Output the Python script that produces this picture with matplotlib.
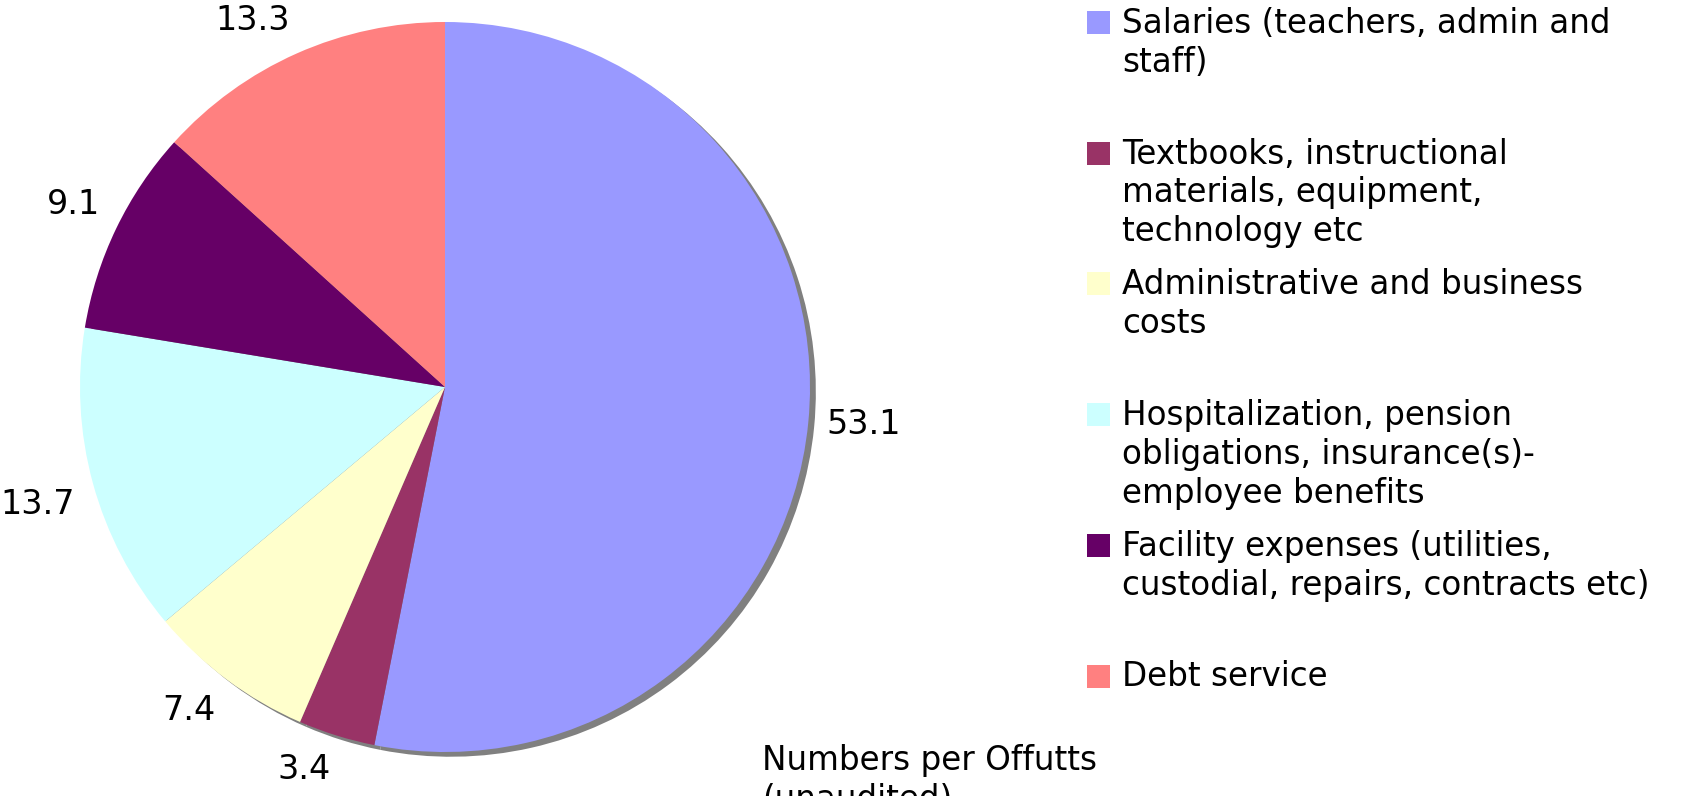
import numpy as np
import matplotlib.pyplot as plt
from matplotlib.patches import Rectangle

# expense categories and their shares (percent)
categories = [
    "Salaries (teachers, admin and\nstaff)",
    "Textbooks, instructional\nmaterials, equipment,\ntechnology etc",
    "Administrative and business\ncosts",
    "Hospitalization, pension\nobligations, insurance(s)-\nemployee benefits",
    "Facility expenses (utilities,\ncustodial, repairs, contracts etc)",
    "Debt service",
]
shares = [53.1, 3.4, 7.4, 13.7, 9.1, 13.3]
value_labels = ["53.1", "3.4", "7.4", "13.7", "9.1", "13.3"]
colors = ["#9999FF", "#993366", "#FFFFCC", "#CCFFFF", "#660066", "#FF8080"]
note = "Numbers per Offutts\n(unaudited)"

W, H = 1691, 796
plt.rcParams["font.family"] = ["DejaVu Sans"]
fig = plt.figure(figsize=(W / 100, H / 100), dpi=100)

# pie axes: centre (445, 387) px, radius 365 px
cx, cy, r = 445, 387, 365
ax = fig.add_axes([(cx - r) / W, (H - cy - r) / H, 2 * r / W, 2 * r / H])

# grey drop shadow behind the pie
ax.pie(shares, colors=["#808080"] * len(shares), startangle=90,
       counterclock=False, center=(0.016, -0.013),
       wedgeprops=dict(linewidth=0))
wedges, texts = ax.pie(shares, colors=colors, labels=value_labels, startangle=90,
                       counterclock=False, labeldistance=1.05,
                       wedgeprops=dict(linewidth=0),
                       textprops=dict(fontsize=24, color="black"))

# keep the value labels fully outside the pie (Excel style)
for t in texts:
    x, y = t.get_position()
    s = y / np.hypot(x, y)
    if abs(s) > 0.15:
        t.set_va("bottom" if s > 0 else "top")

ax.set_xlim(-1, 1)
ax.set_ylim(-1, 1)
ax.set_aspect("equal")
ax.axis("off")

# legend drawn by hand: equal slots, text top-aligned with the swatch
slot, top0, sw = 130.7, 11, 23
for i, (lab, col) in enumerate(zip(categories, colors)):
    top = top0 + i * slot
    fig.patches.append(Rectangle((1087 / W, 1 - (top + sw) / H), sw / W, sw / H,
                                 transform=fig.transFigure, facecolor=col,
                                 edgecolor="none"))
    fig.text(1122 / W, 1 - (top - 4) / H, lab, fontsize=23.5, va="top",
             ha="left", linespacing=1.22)

fig.text(762 / W, 1 - 744 / H, note, fontsize=23.5, va="top", ha="left",
         linespacing=1.22)

fig.savefig("out.png", dpi=100)
